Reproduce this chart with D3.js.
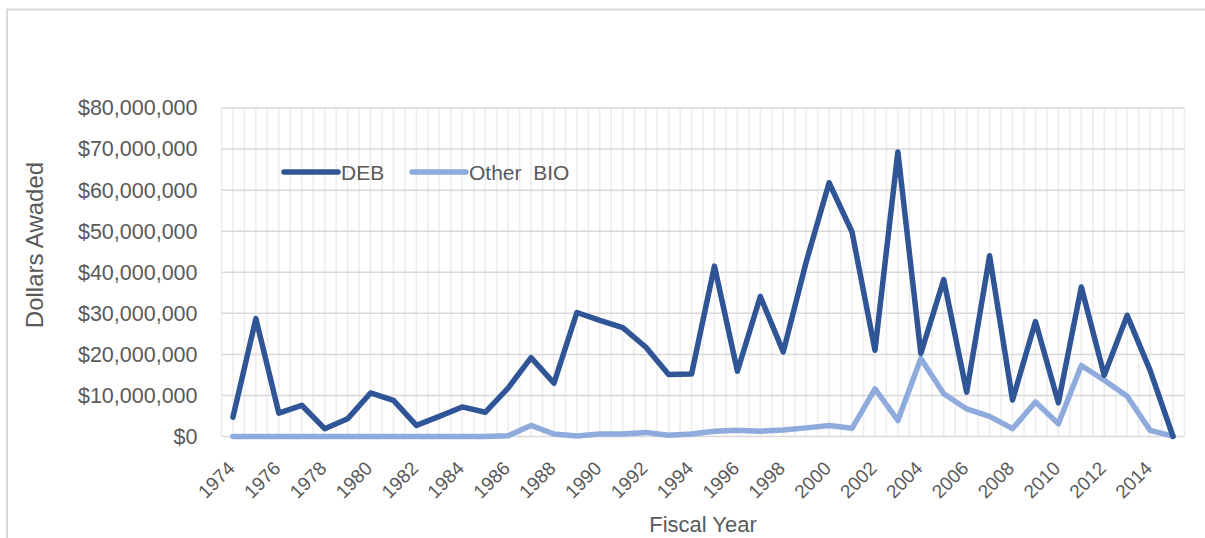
<!DOCTYPE html>
<html>
<head>
<meta charset="utf-8">
<script src="https://cdn.jsdelivr.net/npm/d3@7"></script>
<style>
  html, body { margin: 0; padding: 0; background: #fff; }
  svg { display: block; font-family: "Liberation Sans", Arial, sans-serif; }
</style>
</head>
<body>
<svg id="chart" width="1205" height="538"></svg>
<script>
// Fiscal years 1974–2015
const years = d3.range(1974, 2016);

// Dollars awarded per fiscal year
const debValues = [
  4.7e6, 28.7e6, 5.7e6, 7.6e6, 1.9e6, 4.3e6, 10.6e6, 8.8e6, 2.7e6, 4.9e6,
  7.2e6, 5.9e6, 11.8e6, 19.2e6, 13.0e6, 30.2e6, 28.3e6, 26.5e6, 21.8e6, 15.1e6,
  15.2e6, 41.5e6, 15.9e6, 34.1e6, 20.6e6, 42.5e6, 61.8e6, 49.8e6, 21.0e6, 69.3e6,
  20.2e6, 38.2e6, 10.8e6, 44.0e6, 8.9e6, 28.0e6, 8.2e6, 36.4e6, 14.9e6, 29.5e6,
  16.1e6, 0
];
const otherBioValues = [
  0, 0, 0, 0, 0, 0, 0, 0, 0, 0,
  0, 0, 0.2e6, 2.7e6, 0.6e6, 0.1e6, 0.6e6, 0.6e6, 1.0e6, 0.3e6,
  0.6e6, 1.3e6, 1.5e6, 1.3e6, 1.6e6, 2.1e6, 2.7e6, 2.0e6, 11.6e6, 3.9e6,
  19.0e6, 10.4e6, 6.7e6, 4.9e6, 1.9e6, 8.4e6, 3.1e6, 17.3e6, 13.7e6, 9.8e6,
  1.5e6, 0.1e6
];

const seriesNames = ["DEB", "Other  BIO"];
const seriesColors = ["#2F5597", "#8FAADC"];
const yTicks = d3.range(0, 80000001, 10000000);
const xTickYears = years.filter(y => (y - 1974) % 2 === 0);

const svg = d3.select("#chart");
const plot = { left: 221.5, right: 1184.5, top: 108, bottom: 436.5 };

// Outer chart frame (runs past the right and bottom edges)
svg.append("path")
  .attr("d", `M7,540 L7,9.5 L1207,9.5`)
  .attr("fill", "none")
  .attr("stroke", "#D9D9D9")
  .attr("stroke-width", 2);

const x = d3.scaleBand().domain(years).range([plot.left, plot.right]);
const xc = yr => x(yr) + x.bandwidth() / 2;
const y = d3.scaleLinear().domain([0, 80000000]).range([plot.bottom, plot.top]);

// Vertical minor gridlines at category edges and centers
const vLines = [];
years.forEach(yr => { vLines.push(x(yr)); vLines.push(xc(yr)); });
vLines.push(plot.right);
svg.append("g").selectAll("line").data(vLines).join("line")
  .attr("x1", d => d).attr("x2", d => d)
  .attr("y1", plot.top).attr("y2", plot.bottom)
  .attr("stroke", "#ECECEC").attr("stroke-width", 1.5);

// Horizontal major gridlines
svg.append("g").selectAll("line").data(yTicks).join("line")
  .attr("x1", plot.left).attr("x2", plot.right)
  .attr("y1", d => y(d)).attr("y2", d => y(d))
  .attr("stroke", "#D9D9D9").attr("stroke-width", 1.5);

// Y axis labels
const fmt = v => "$" + d3.format(",")(v);
const yAxis = d3.axisLeft(y).tickValues(yTicks).tickFormat(fmt).tickSize(0).tickPadding(24);
const gy = svg.append("g").attr("transform", `translate(${plot.left},0)`).call(yAxis);
gy.select(".domain").remove();
gy.selectAll("text")
  .attr("fill", "#595959")
  .style("font-size", "21.5px")
  .style("font-family", "'Liberation Sans', Arial, sans-serif");

// X axis labels, rotated
const xAxis = d3.axisBottom(x).tickValues(xTickYears).tickSize(0).tickPadding(0);
const gx = svg.append("g").attr("transform", `translate(0,${plot.bottom})`).call(xAxis);
gx.select(".domain").remove();
gx.selectAll("text")
  .attr("fill", "#595959")
  .style("font-size", "19px")
  .style("font-family", "'Liberation Sans', Arial, sans-serif")
  .attr("text-anchor", "end")
  .attr("dy", "0")
  .attr("y", 0)
  .attr("transform", "translate(3,33) rotate(-45)");

// Axis titles
svg.append("text")
  .attr("x", 703).attr("y", 532)
  .attr("text-anchor", "middle")
  .attr("fill", "#595959")
  .style("font-size", "22px")
  .text("Fiscal Year");

svg.append("text")
  .attr("transform", "translate(43,245) rotate(-90)")
  .attr("text-anchor", "middle")
  .attr("fill", "#595959")
  .style("font-size", "24px")
  .text("Dollars Awaded");

// Series lines
const line = d3.line().x((d, i) => xc(years[i])).y(d => y(d));
[otherBioValues, debValues].forEach((vals, k) => {
  const idx = 1 - k;
  svg.append("path")
    .datum(vals)
    .attr("d", line)
    .attr("fill", "none")
    .attr("stroke", seriesColors[idx])
    .attr("stroke-width", 5.5)
    .attr("stroke-linejoin", "round")
    .attr("stroke-linecap", "round");
});

// Legend
const legendX = [284, 412];
const legend = svg.append("g");
seriesNames.forEach((name, i) => {
  legend.append("line")
    .attr("x1", legendX[i]).attr("x2", legendX[i] + 54)
    .attr("y1", 172).attr("y2", 172)
    .attr("stroke", seriesColors[i]).attr("stroke-width", 5.5)
    .attr("stroke-linecap", "round");
  legend.append("text")
    .attr("x", legendX[i] + 57).attr("y", 180)
    .attr("fill", "#595959")
    .style("font-size", "21px")
    .style("white-space", "pre")
    .attr("xml:space", "preserve")
    .text(name);
});
</script>
</body>
</html>
